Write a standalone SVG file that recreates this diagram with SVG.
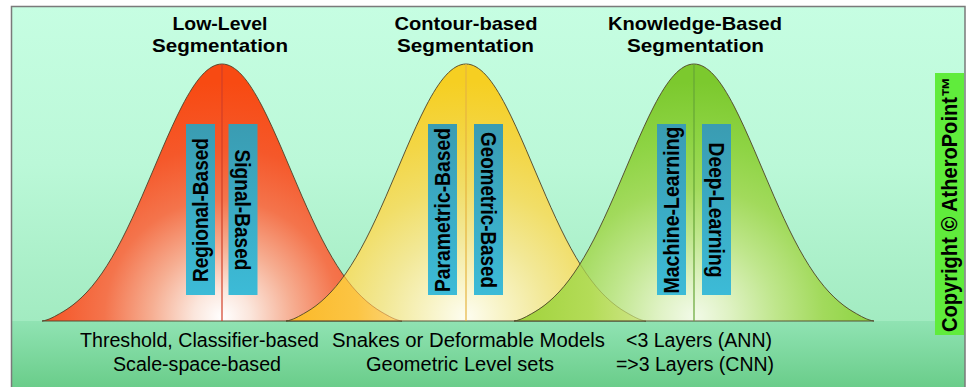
<svg xmlns="http://www.w3.org/2000/svg" width="967" height="387" viewBox="0 0 967 387">
  <defs>
    <style>
      .edge { fill: none; stroke: #4e4228; stroke-width: 0.9; }
      .ghost { fill: none; stroke-width: 0.9; stroke-opacity: 0.45; }
      .box { fill: url(#gBox); }
      .vt { font-family: "Liberation Sans", Arial, sans-serif; font-weight: bold; font-size: 21.5px; fill: #000; text-anchor: middle; }
      .title { font-family: "Liberation Sans", Arial, sans-serif; font-weight: bold; font-size: 19px; fill: #000; text-anchor: middle; }
      .note { font-family: "Liberation Sans", Arial, sans-serif; font-size: 19.5px; fill: #000; text-anchor: middle; }
    </style>

    <!-- bell curve, centred on x=0 with its base on y=0 -->
    <path id="bell" d="M -180 0 C -173.3 -0.8 -166.7 -4.9 -160 -8.7 C -153.3 -12.5 -146.7 -17.5 -140 -23.9 C -133.3 -30.3 -126.7 -38.2 -120 -47.9 C -113.3 -57.6 -106.7 -68.9 -100 -81.9 C -93.3 -94.9 -86.7 -109.4 -80 -124.7 C -73.3 -140 -66.7 -156.1 -60 -171.6 C -53.3 -187.1 -46.7 -202 -40 -214.9 C -33.3 -227.8 -26.7 -238.5 -20 -245.8 C -13.3 -253.1 -6.7 -257 0 -257 C 6.7 -257 13.3 -253.1 20 -245.8 C 26.7 -238.5 33.3 -227.8 40 -214.9 C 46.7 -202 53.3 -187.1 60 -171.6 C 66.7 -156.1 73.3 -140 80 -124.7 C 86.7 -109.4 93.3 -94.9 100 -81.9 C 106.7 -68.9 113.3 -57.6 120 -47.9 C 126.7 -38.2 133.3 -30.3 140 -23.9 C 146.7 -17.5 153.3 -12.5 160 -8.7 C 166.7 -4.9 173.3 -0.8 180 0 Z"/>

    <linearGradient id="gSky" gradientUnits="userSpaceOnUse" x1="0" y1="6" x2="0" y2="321">
      <stop offset="0" stop-color="#c6fee2"/>
      <stop offset="0.5" stop-color="#bbf8d8"/>
      <stop offset="1" stop-color="#a2ebc1"/>
    </linearGradient>
    <linearGradient id="gBand" gradientUnits="userSpaceOnUse" x1="0" y1="321" x2="0" y2="387">
      <stop offset="0" stop-color="#90e3b3"/>
      <stop offset="1" stop-color="#6acd8a"/>
    </linearGradient>

    <radialGradient id="gRed" gradientUnits="userSpaceOnUse" cx="0" cy="-4" r="235">
      <stop offset="0" stop-color="#ffffff"/>
      <stop offset="0.12" stop-color="#fbe6dc"/>
      <stop offset="0.3" stop-color="#f6ae92"/>
      <stop offset="0.5" stop-color="#f4744c"/>
      <stop offset="0.72" stop-color="#f5582a"/>
      <stop offset="1" stop-color="#f84a12"/>
    </radialGradient>
    <radialGradient id="gYellow" gradientUnits="userSpaceOnUse" cx="0" cy="-4" r="235">
      <stop offset="0" stop-color="#fdfdf0"/>
      <stop offset="0.15" stop-color="#f8f4c8"/>
      <stop offset="0.35" stop-color="#f2e896"/>
      <stop offset="0.55" stop-color="#f1de68"/>
      <stop offset="0.75" stop-color="#f3d646"/>
      <stop offset="1" stop-color="#f6cf22"/>
    </radialGradient>
    <radialGradient id="gGreen" gradientUnits="userSpaceOnUse" cx="0" cy="-4" r="235">
      <stop offset="0" stop-color="#f2fae8"/>
      <stop offset="0.15" stop-color="#dff2c4"/>
      <stop offset="0.35" stop-color="#bfe68c"/>
      <stop offset="0.55" stop-color="#a2da5c"/>
      <stop offset="0.75" stop-color="#8ed444"/>
      <stop offset="1" stop-color="#7cc92e"/>
    </radialGradient>

    <!-- colours where two neighbouring bells overlap -->
    <linearGradient id="gOvRY" gradientUnits="userSpaceOnUse" x1="-182" y1="0" x2="-60" y2="0">
      <stop offset="0" stop-color="#fbb826"/>
      <stop offset="0.6" stop-color="#fcc544"/>
      <stop offset="1" stop-color="#fbd680"/>
    </linearGradient>
    <linearGradient id="gOvYG" gradientUnits="userSpaceOnUse" x1="-182" y1="0" x2="-50" y2="0">
      <stop offset="0" stop-color="#9fd23a"/>
      <stop offset="0.6" stop-color="#b4dc58"/>
      <stop offset="1" stop-color="#cfe588"/>
    </linearGradient>

    <linearGradient id="gBox" x1="0" y1="0" x2="0" y2="1">
      <stop offset="0" stop-color="#3a9cb2"/>
      <stop offset="1" stop-color="#3cbbd7"/>
    </linearGradient>

    <clipPath id="clipRed"><use href="#bell" transform="translate(222,321)"/></clipPath>
    <clipPath id="clipYellow"><use href="#bell" transform="translate(466,321)"/></clipPath>
    <clipPath id="clipGreen"><use href="#bell" transform="translate(694,321)"/></clipPath>
  </defs>

  <!-- backdrop -->
  <g id="backdrop">
    <rect x="11" y="6" width="954" height="315" fill="url(#gSky)"/>
    <rect x="11" y="321" width="954" height="66" fill="url(#gBand)"/>
    <path d="M 11.5 387 V 6.5 H 965 V 387" fill="none" stroke="#7a7a7a" stroke-width="1.5"/>
  </g>

  <!-- low-level segmentation -->
  <g id="low-level">
    <use href="#bell" transform="translate(222,321)" fill="url(#gRed)"/>
    <use href="#bell" transform="translate(222,321)" class="edge"/>
    <line x1="222" y1="64" x2="222" y2="321" stroke="#d23e28" stroke-width="1.2"/>
    <rect class="box" x="186" y="124" width="29" height="171"/>
    <rect class="box" x="228.5" y="124" width="29" height="171"/>
    <text class="vt" transform="translate(208.2,210) rotate(-90)" textLength="144" lengthAdjust="spacingAndGlyphs">Regional-Based</text>
    <text class="vt" transform="translate(235.3,210) rotate(90)" textLength="121" lengthAdjust="spacingAndGlyphs">Signal-Based</text>
    <text class="title" x="220" y="30" textLength="95" lengthAdjust="spacingAndGlyphs">Low-Level</text>
    <text class="title" x="220" y="52" textLength="136" lengthAdjust="spacingAndGlyphs">Segmentation</text>
    <text class="note" x="199.5" y="347" textLength="239" lengthAdjust="spacingAndGlyphs">Threshold, Classifier-based</text>
    <text class="note" x="197" y="371" textLength="168" lengthAdjust="spacingAndGlyphs">Scale-space-based</text>
  </g>

  <!-- contour-based segmentation -->
  <g id="contour-based">
    <use href="#bell" transform="translate(466,321)" fill="url(#gYellow)"/>
    <g clip-path="url(#clipRed)">
      <use href="#bell" transform="translate(466,321)" fill="url(#gOvRY)"/>
    </g>
    <g clip-path="url(#clipYellow)">
      <use href="#bell" transform="translate(222,321)" class="ghost" stroke="#9a4a20"/>
    </g>
    <use href="#bell" transform="translate(466,321)" class="edge"/>
    <line x1="466" y1="64" x2="466" y2="321" stroke="#e6b440" stroke-width="1.2"/>
    <rect class="box" x="428" y="124" width="29" height="171"/>
    <rect class="box" x="474" y="124" width="29" height="171"/>
    <text class="vt" transform="translate(450.2,210) rotate(-90)" textLength="164" lengthAdjust="spacingAndGlyphs">Parametric-Based</text>
    <text class="vt" transform="translate(480.8,210) rotate(90)" textLength="156" lengthAdjust="spacingAndGlyphs">Geometric-Based</text>
    <text class="title" x="466" y="30" textLength="143" lengthAdjust="spacingAndGlyphs">Contour-based</text>
    <text class="title" x="465.5" y="52" textLength="137" lengthAdjust="spacingAndGlyphs">Segmentation</text>
    <text class="note" x="468.5" y="347" textLength="273" lengthAdjust="spacingAndGlyphs">Snakes or Deformable Models</text>
    <text class="note" x="460" y="371" textLength="188" lengthAdjust="spacingAndGlyphs">Geometric Level sets</text>
  </g>

  <!-- knowledge-based segmentation -->
  <g id="knowledge-based">
    <use href="#bell" transform="translate(694,321)" fill="url(#gGreen)"/>
    <g clip-path="url(#clipYellow)">
      <use href="#bell" transform="translate(694,321)" fill="url(#gOvYG)"/>
    </g>
    <g clip-path="url(#clipGreen)">
      <use href="#bell" transform="translate(466,321)" class="ghost" stroke="#7a7a30"/>
    </g>
    <use href="#bell" transform="translate(694,321)" class="edge"/>
    <line x1="694" y1="64" x2="694" y2="321" stroke="#66a636" stroke-width="1.2"/>
    <rect class="box" x="657" y="124" width="29" height="171"/>
    <rect class="box" x="702" y="124" width="29" height="171"/>
    <text class="vt" transform="translate(679.2,210) rotate(-90)" textLength="167" lengthAdjust="spacingAndGlyphs">Machine-Learning</text>
    <text class="vt" transform="translate(708.8,210) rotate(90)" textLength="135" lengthAdjust="spacingAndGlyphs">Deep-Learning</text>
    <text class="title" x="695" y="30" textLength="174" lengthAdjust="spacingAndGlyphs">Knowledge-Based</text>
    <text class="title" x="695.5" y="52" textLength="137" lengthAdjust="spacingAndGlyphs">Segmentation</text>
    <text class="note" x="699" y="347" textLength="146" lengthAdjust="spacingAndGlyphs">&lt;3 Layers (ANN)</text>
    <text class="note" x="695" y="371" textLength="158" lengthAdjust="spacingAndGlyphs">=&gt;3 Layers (CNN)</text>
  </g>

  <!-- copyright tag -->
  <g id="copyright">
    <rect x="935" y="73" width="29" height="262" fill="#60ec3c"/>
    <text class="vt" transform="translate(956.5,204.5) rotate(-90)" font-size="20" textLength="255" lengthAdjust="spacingAndGlyphs">Copyright © AtheroPoint™</text>
  </g>
</svg>
